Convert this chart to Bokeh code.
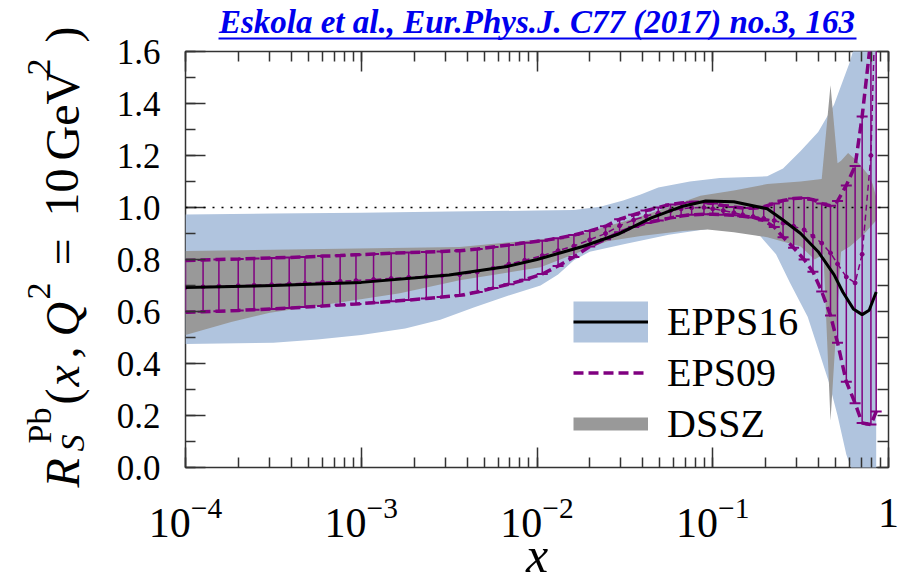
import math
from bokeh.plotting import figure
from bokeh.layouts import row, column
from bokeh.core.properties import value
from bokeh.models import (LinearAxis, LogAxis, LogTicker, FixedTicker, SingleIntervalTicker,
                          PrintfTickFormatter, CustomJSTickFormatter, Span, Legend, LegendItem,
                          ColumnDataSource, Range1d)
from bokeh.embed import file_html
from bokeh.resources import INLINE

# ---------------- data: nuclear modification R_S^Pb(x, Q^2 = 10 GeV^2) ----------------
# EPPS16 central fit (log10 x, value)
epps16_logx = [-4.00, -3.50, -3.00, -2.50, -2.17, -2.00, -1.87, -1.74, -1.54, -1.35, -1.17,
               -1.04, -0.88, -0.69, -0.60, -0.50, -0.40, -0.31, -0.26, -0.20, -0.15, -0.11, -0.07]
epps16_central = [0.692, 0.700, 0.712, 0.740, 0.773, 0.800, 0.825, 0.850, 0.897, 0.960, 1.005,
                  1.025, 1.022, 0.995, 0.952, 0.900, 0.830, 0.742, 0.675, 0.610, 0.588, 0.605, 0.675]

# EPPS16 uncertainty band
epps16_up_logx = [-4.00, -3.50, -3.00, -2.50, -2.00, -1.79, -1.64, -1.51, -1.41, -1.31, -1.13,
                  -0.96, -0.69, -0.60, -0.50, -0.40, -0.31, -0.22, -0.16, -0.07]
epps16_up = [0.973, 0.977, 0.980, 0.985, 0.988, 0.990, 1.003, 1.027, 1.050, 1.077, 1.100,
             1.113, 1.120, 1.150, 1.217, 1.290, 1.395, 1.560, 1.700, 1.800]
epps16_lo_logx = [-4.00, -3.50, -3.25, -3.00, -2.75, -2.55, -2.36, -2.17, -1.98, -1.88, -1.79,
                  -1.70, -1.50, -1.25, -1.00, -0.84, -0.73, -0.64, -0.56, -0.46, -0.40, -0.34,
                  -0.29, -0.24, -0.16, -0.07]
epps16_lo = [0.475, 0.480, 0.492, 0.510, 0.535, 0.568, 0.615, 0.660, 0.700, 0.742, 0.797,
             0.830, 0.860, 0.895, 0.920, 0.910, 0.890, 0.820, 0.710, 0.580, 0.456, 0.330,
             0.200, 0.050, -0.100, -0.200]

# DSSZ uncertainty band
dssz_up_logx = [-4.00, -2.44, -1.79, -1.41, -1.22, -1.07, -0.88, -0.69, -0.50, -0.38, -0.33,
                -0.29, -0.27, -0.23, -0.18, -0.12, -0.09, -0.07]
dssz_up = [0.833, 0.848, 0.890, 0.965, 1.010, 1.045, 1.065, 1.090, 1.100, 1.110, 1.470,
           1.170, 1.180, 1.210, 1.180, 1.130, 1.090, 1.040]
dssz_lo_logx = [-4.00, -3.74, -3.52, -3.17, -2.78, -2.44, -1.98, -1.79, -1.60, -1.41, -1.17,
                -1.03, -0.88, -0.69, -0.50, -0.42, -0.37, -0.33, -0.27, -0.22, -0.15, -0.07]
dssz_lo = [0.510, 0.560, 0.595, 0.630, 0.670, 0.720, 0.770, 0.820, 0.870, 0.890, 0.910,
           0.915, 0.905, 0.886, 0.850, 0.800, 0.820, 0.180, 0.830, 0.850, 0.890, 0.950]

# EPS09: central value with lower / upper error limits at its grid points
eps09_logx = [-4.00, -3.90, -3.81, -3.70, -3.61, -3.51, -3.41, -3.32, -3.22, -3.12, -3.03,
              -2.93, -2.83, -2.73, -2.63, -2.54, -2.44, -2.34, -2.25, -2.16, -2.07, -1.97,
              -1.88, -1.79, -1.70, -1.61, -1.53, -1.45, -1.38, -1.31, -1.24, -1.18, -1.12,
              -1.05, -1.00, -0.94, -0.88, -0.83, -0.77, -0.71, -0.65, -0.60, -0.54, -0.48,
              -0.43, -0.38, -0.33, -0.29, -0.24, -0.19, -0.15, -0.10, -0.07]
eps09_lo = [0.597, 0.599, 0.601, 0.604, 0.607, 0.610, 0.613, 0.617, 0.621, 0.625, 0.629,
            0.634, 0.639, 0.644, 0.650, 0.656, 0.662, 0.675, 0.690, 0.705, 0.722, 0.744,
            0.775, 0.810, 0.850, 0.878, 0.905, 0.925, 0.940, 0.950, 0.960, 0.967, 0.972,
            0.974, 0.974, 0.972, 0.970, 0.966, 0.962, 0.950, 0.925, 0.886, 0.845, 0.800,
            0.753, 0.677, 0.585, 0.480, 0.330, 0.247, 0.171, 0.165, 0.215]
eps09_mid = [0.693, 0.695, 0.697, 0.699, 0.701, 0.703, 0.706, 0.709, 0.713, 0.716, 0.719,
             0.723, 0.727, 0.731, 0.735, 0.738, 0.742, 0.752, 0.766, 0.782, 0.797, 0.815,
             0.834, 0.852, 0.876, 0.900, 0.930, 0.952, 0.967, 0.978, 0.988, 0.995, 0.999,
             1.000, 0.995, 0.988, 0.980, 0.972, 0.965, 0.958, 0.950, 0.940, 0.928, 0.914,
             0.890, 0.863, 0.825, 0.783, 0.733, 0.710, 0.820, 1.200, 1.900]
eps09_hi = [0.796, 0.798, 0.800, 0.802, 0.804, 0.806, 0.808, 0.810, 0.813, 0.815, 0.818,
            0.821, 0.824, 0.827, 0.829, 0.831, 0.834, 0.840, 0.848, 0.856, 0.864, 0.872,
            0.882, 0.894, 0.910, 0.928, 0.955, 0.972, 0.988, 1.000, 1.012, 1.017, 1.020,
            1.020, 1.015, 1.008, 1.002, 0.998, 0.997, 1.003, 1.015, 1.027, 1.035, 1.037,
            1.030, 1.015, 1.007, 1.025, 1.085, 1.160, 1.350, 1.650, 2.300]

x_ticks_text = {1: "1"}
series_names = ["EPPS16", "EPS09", "DSSZ"]
citation = "Eskola et al., Eur.Phys.J. C77 (2017) no.3, 163"

# ---------------- styling ----------------
BLUE_BAND = "#b0c4de"
GREY_BAND = "#999999"
PURPLE = "#800080"
FRAME = "#333333"
LINK = "#0000ee"
SERIF = "Times New Roman"

W, H = 911, 585
LEFT_W = 100
FRAME_L, FRAME_R, FRAME_TOP, FRAME_BOTTOM = 185, 888, 49, 470
MID = 0.3375                          # baseline offset from the text middle, in ems


def to_x(logs):
    return [10.0 ** v for v in logs]


def page_to_x(px):
    """Data x under a horizontal page position of the main frame (log axis 1e-4 ... 1)."""
    return 10.0 ** (-4.0 + 4.0 * (px - FRAME_L) / (FRAME_R - FRAME_L))


# ---------------- main panel ----------------
p = figure(width=W - LEFT_W, height=H, x_axis_type="log",
           x_range=(1e-4, 1.0), y_range=(0.0, 1.6),
           output_backend="svg", toolbar_location=None,
           min_border_left=FRAME_L - LEFT_W, min_border_right=W - FRAME_R,
           min_border_top=FRAME_TOP, min_border_bottom=H - FRAME_BOTTOM,
           outline_line_color=FRAME, outline_line_width=1.5,
           background_fill_color="white", border_fill_color="white")
p.grid.visible = False

# bands
p.patch(to_x(epps16_up_logx) + to_x(epps16_lo_logx)[::-1], epps16_up + epps16_lo[::-1],
        fill_color=BLUE_BAND, line_color=None)
p.patch(to_x(dssz_up_logx) + to_x(dssz_lo_logx)[::-1], dssz_up + dssz_lo[::-1],
        fill_color=GREY_BAND, line_color=None)

# EPS09 error bars and curves
eps = ColumnDataSource(dict(x=to_x(eps09_logx), lo=eps09_lo, mid=eps09_mid, hi=eps09_hi))
p.segment(x0="x", y0="lo", x1="x", y1="hi", source=eps, line_color=PURPLE, line_width=1.5)
p.scatter("x", "lo", source=eps, marker="dash", size=11, line_color=PURPLE, line_width=2)
p.scatter("x", "hi", source=eps, marker="dash", size=11, line_color=PURPLE, line_width=2)
eps_hi_line = p.line("x", "hi", source=eps, line_color=PURPLE, line_width=3.5, line_dash="10 5")
p.line("x", "lo", source=eps, line_color=PURPLE, line_width=3.5, line_dash="10 5")
p.line("x", "mid", source=eps, line_color=PURPLE, line_width=1.5, line_dash="6 4")
p.scatter("x", "mid", source=eps, marker="circle", size=4, fill_color=PURPLE, line_color=PURPLE)

# EPPS16 central
central = p.line(to_x(epps16_logx), epps16_central, line_color="black", line_width=3)

# unity reference
p.add_layout(Span(location=1.0, dimension="width", line_color="black", line_width=1.5,
                  line_dash="2 7"))


def style_ticks(ax, major, minor):
    ax.major_tick_in = major
    ax.major_tick_out = 0
    ax.minor_tick_in = minor
    ax.minor_tick_out = 0
    ax.major_tick_line_color = FRAME
    ax.minor_tick_line_color = FRAME
    ax.major_tick_line_width = 1.5
    ax.minor_tick_line_width = 1.5
    ax.axis_line_color = None


xa = p.xaxis[0]
xa.ticker = LogTicker(num_minor_ticks=10)
style_ticks(xa, 20, 10)
xa.major_label_text_font = SERIF
xa.major_label_text_font_size = "42px"
xa.major_label_text_color = "black"
xa.major_label_standoff = 31
xa.major_label_overrides = x_ticks_text
xa.axis_label = "x"
xa.axis_label_text_font = SERIF
xa.axis_label_text_font_style = "italic"
xa.axis_label_text_font_size = "50px"
xa.axis_label_text_color = "black"
xa.axis_label_standoff = -13

ya = p.yaxis[0]
ya.ticker = SingleIntervalTicker(interval=0.2, num_minor_ticks=2)
ya.formatter = PrintfTickFormatter(format="%.1f")
style_ticks(ya, 20, 10)
ya.major_label_text_font = SERIF
ya.major_label_text_font_size = "35px"
ya.major_label_text_color = "black"
ya.major_label_standoff = 25

# top ticks; a blank one-space axis label keeps a small gap above the frame
blank = CustomJSTickFormatter(code="return ''")
top = LogAxis(ticker=LogTicker(num_minor_ticks=10), formatter=blank,
              major_label_text_font_size="1px", major_label_standoff=0,
              axis_label=" ", axis_label_text_font_size="9px", axis_label_standoff=0)
style_ticks(top, 20, 10)
p.add_layout(top, "above")

# citation above the frame; the axis line of this bare axis underlines it
cite_axis = LogAxis(ticker=FixedTicker(ticks=[]), formatter=blank,
                    major_label_text_font_size="1px", major_label_standoff=0,
                    bounds=(page_to_x(218), page_to_x(856)),
                    axis_line_color=LINK, axis_line_width=2,
                    axis_label=citation, axis_label_text_font=SERIF,
                    axis_label_text_font_style="bold italic", axis_label_text_font_size="33px",
                    axis_label_text_color=LINK, axis_label_standoff=-1)
cite_axis.major_tick_in = 0
cite_axis.major_tick_out = 0
cite_axis.minor_tick_in = 0
cite_axis.minor_tick_out = 0
p.add_layout(cite_axis, "above")

right = LinearAxis(ticker=SingleIntervalTicker(interval=0.1, num_minor_ticks=0), formatter=blank,
                   major_label_text_font_size="1px", major_label_standoff=0)
style_ticks(right, 11, 0)
p.add_layout(right, "right")

# legend (single-point lines act as swatches for the filled bands)
legend_band = p.line([to_x(epps16_up_logx)[0]], [epps16_up[0]], line_color=BLUE_BAND,
                     line_width=41, line_cap="butt")
legend_dssz = p.line([to_x(dssz_up_logx)[0]], [dssz_up[0]], line_color=GREY_BAND,
                     line_width=13, line_cap="butt")
legend = Legend(items=[LegendItem(label=series_names[0], renderers=[legend_band, central]),
                       LegendItem(label=series_names[1], renderers=[eps_hi_line]),
                       LegendItem(label=series_names[2], renderers=[legend_dssz])],
                location=(388, 18), padding=0, spacing=0, margin=0,
                glyph_width=75, glyph_height=51, label_height=51, label_standoff=19,
                background_fill_alpha=0, border_line_alpha=0,
                label_text_font=SERIF, label_text_font_size="40px", label_text_color="black")
p.add_layout(legend)

# ---------------- y-axis title  R_S^Pb(x, Q^2 = 10 GeV^2), bottom-to-top ----------------
left = figure(width=LEFT_W, height=H, x_range=Range1d(0, LEFT_W), y_range=Range1d(0, H),
              output_backend="svg", toolbar_location=None, min_border=0,
              x_axis_location=None, y_axis_location=None, outline_line_color=None,
              background_fill_color="white", border_fill_color="white")
left.grid.visible = False
up = math.pi / 2
BIG, SMALL = 48, 34
# (baseline x, start y in page pixels, text, size, style)
title_parts = [
    (78, 487, "R", BIG, "italic"),
    (83, 451, "S", SMALL, "italic"),
    (50, 443, "Pb", SMALL, "normal"),
    (78, 404, "(", BIG, "normal"),
    (78, 386, "x", BIG, "italic"),
    (78, 358, ",", BIG, "normal"),
    (78, 336, "Q", BIG, "italic"),
    (50, 299, "2", SMALL, "normal"),
    (78, 265, "=", BIG, "normal"),
    (78, 216, "10", BIG, "normal"),
    (78, 160, "GeV", BIG, "normal"),
    (50, 75, "2", SMALL, "normal"),
    (78, 42, ")", BIG, "normal"),
]
for bx, py, s, size, style in title_parts:
    left.text(x=[bx - MID * size], y=[H - py], text=[s], angle=up, text_font=value(SERIF),
              text_font_size=value(f"{size}px"), text_font_style=style, text_color="black",
              text_align="left", text_baseline="middle")

layout = row(column(left), column(p))
open("out.html", "w").write(file_html(layout, INLINE))
